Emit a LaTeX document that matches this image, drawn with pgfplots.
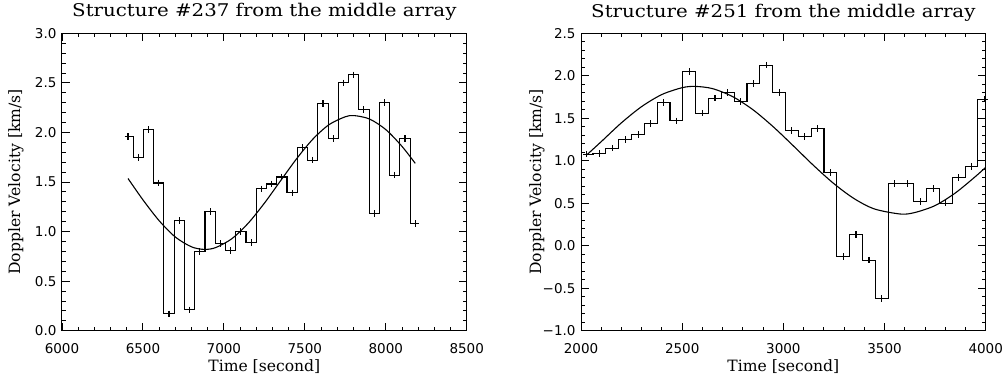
\documentclass[border=0pt]{standalone}
\usepackage{fontspec}
\setmainfont{DejaVu Serif}
\newfontfamily\tickfont{DejaVu Sans}
\usepackage{pgfplots}
\pgfplotsset{compat=1.18}

\pgfplotstableread{
t v
6408 1.96
6471 1.75
6535 2.03
6598 1.49
6661 0.17
6725 1.11
6788 0.21
6852 0.80
6915 1.20
6978 0.88
7042 0.81
7105 1.00
7168 0.89
7232 1.43
7295 1.48
7358 1.55
7422 1.39
7485 1.85
7548 1.72
7612 2.29
7675 1.94
7739 2.50
7802 2.58
7865 2.23
7929 1.18
7992 2.30
8055 1.57
8119 1.94
8182 1.08
}\dataA

\pgfplotstableread{
t v
6408 1.535
6500 1.320
6600 1.110
6700 0.945
6800 0.846
6880 0.820
6950 0.839
7050 0.929
7150 1.084
7250 1.286
7350 1.512
7450 1.736
7550 1.933
7650 2.079
7750 2.158
7805 2.170
7900 2.135
8000 2.029
8100 1.860
8182 1.688
}\fitA

\pgfplotstableread{
t v
2028 1.078
2091 1.086
2155 1.149
2218 1.247
2282 1.306
2345 1.440
2408 1.686
2472 1.470
2535 2.050
2599 1.560
2662 1.737
2725 1.800
2789 1.694
2852 1.910
2916 2.125
2979 1.804
3042 1.353
3106 1.282
3169 1.380
3233 0.863
3296 -0.129
3359 0.129
3423 -0.169
3486 -0.620
3550 0.733
3613 0.733
3676 0.518
3740 0.675
3803 0.502
3867 0.800
3930 0.933
3993 1.725
}\dataB

\pgfplotstableread{
t v
2028 1.068
2100 1.225
2200 1.447
2300 1.638
2400 1.780
2500 1.860
2564 1.875
2650 1.849
2750 1.754
2850 1.600
2950 1.400
3050 1.174
3150 0.943
3250 0.730
3350 0.554
3450 0.433
3579 0.373
3650 0.391
3750 0.473
3850 0.621
3950 0.816
3997 0.917
}\fitB

\pgfplotsset{idl/.style={
  scale only axis, width=404.7pt, height=297.4pt,
  tick align=inside, major tick length=8pt, minor tick length=4pt,
  minor x tick num=4, minor y tick num=4,
  tick style={black, line width=0.9pt},
  axis line style={line width=1pt},
  ticklabel style={font=\fontsize{13.5}{14}\tickfont},
  title style={font=\fontsize{17.5}{18}\selectfont, at={(axis description cs:0.5,1)}, anchor=base, yshift=10.3pt},
  label style={font=\fontsize{15.6}{16}\selectfont},
  xlabel style={at={(axis description cs:0.5,0)}, anchor=base, yshift=-41pt},
  xticklabel style={yshift=-9.5pt},
  yticklabel style={xshift=-2pt},
  clip=true,
},
steps/.style={black, line width=1.1pt, const plot mark mid, mark=+, mark size=3.3pt, mark options={line width=1.1pt, solid}},
fit/.style={black, line width=1.1pt, smooth, no marks}
}

\begin{document}
\begin{tikzpicture}
\useasboundingbox (-62pt,-44.3pt) rectangle (941pt,330.7pt);
\begin{axis}[idl,
  xmin=6000, xmax=8500, ymin=0, ymax=3,
  xtick={6000,6500,7000,7500,8000,8500},
  xticklabels={6000,6500,7000,7500,8000,8500},
  ytick={0,0.5,1,1.5,2,2.5,3},
  yticklabels={0.0,0.5,1.0,1.5,2.0,2.5,3.0},
  title={\scalebox{1.13}[1]{Structure \#237 from the middle array}},
  xlabel={Time [second]},
  ylabel={Doppler Velocity [km/s]},
  ylabel style={at={(axis description cs:-0.1033,0.5)}, anchor=base},
]
\addplot[steps] table[x=t,y=v] {\dataA};
\addplot[fit] table[x=t,y=v] {\fitA};
\end{axis}
\begin{axis}[idl, at={(519pt,0pt)}, anchor=south west,
  xmin=2000, xmax=4000, ymin=-1, ymax=2.5,
  xtick={2000,2500,3000,3500,4000},
  xticklabels={2000,2500,3000,3500,4000},
  ytick={-1,-0.5,0,0.5,1,1.5,2,2.5},
  yticklabels={−1.0,−0.5,0.0,0.5,1.0,1.5,2.0,2.5},
  title={\scalebox{1.13}[1]{Structure \#251 from the middle array}},
  xlabel={Time [second]},
  ylabel={Doppler Velocity [km/s]},
  ylabel style={at={(axis description cs:-0.0983,0.5)}, anchor=base},
]
\addplot[steps] table[x=t,y=v] {\dataB};
\addplot[fit] table[x=t,y=v] {\fitB};
\end{axis}
\end{tikzpicture}
\end{document}
